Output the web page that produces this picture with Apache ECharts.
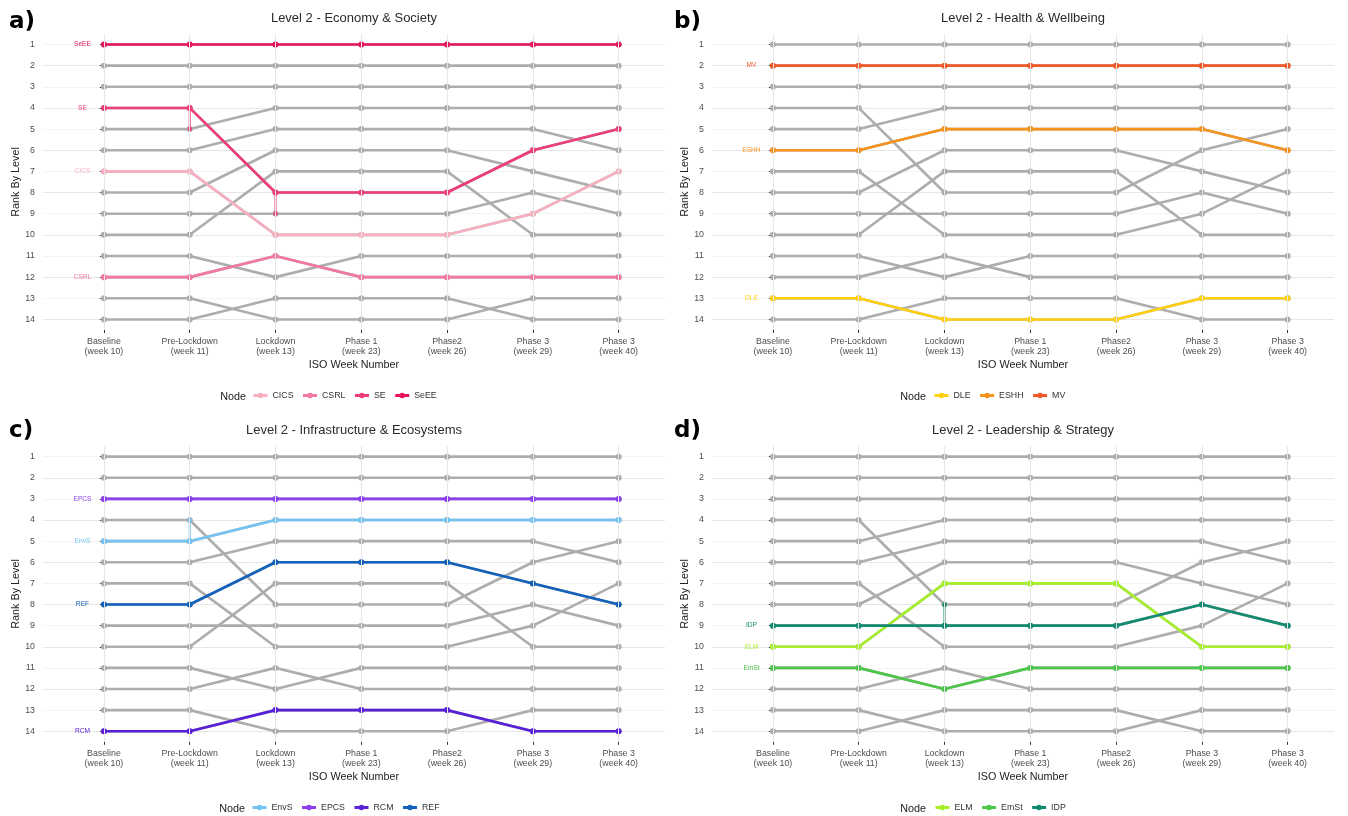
<!DOCTYPE html>
<html>
<head>
<meta charset="utf-8">
<title>Level 2 node ranks</title>
<script src="https://cdn.jsdelivr.net/npm/echarts@6/dist/echarts.min.js"></script>
<style>
  html, body { margin: 0; padding: 0; background: #ffffff; }
  #chart { width: 1348px; height: 816px; }
</style>
</head>
<body>
<div id="chart"></div>
<script>
// Time points on the x axis
const weekLabels = [
  'Baseline\n(week 10)', 'Pre-Lockdown\n(week 11)', 'Lockdown\n(week 13)',
  'Phase 1\n(week 23)', 'Phase2\n(week 26)', 'Phase 3\n(week 29)', 'Phase 3\n(week 40)'
];
const weekIndex = [0, 1, 2, 3, 4, 5, 6];
const rankTicks = [1, 2, 3, 4, 5, 6, 7, 8, 9, 10, 11, 12, 13, 14];

// Rank of each of the 14 Level 2 nodes at every time point (grey background lines)
const nodeRanks = [
  [1, 1, 1, 1, 1, 1, 1],
  [2, 2, 2, 2, 2, 2, 2],
  [3, 3, 3, 3, 3, 3, 3],
  [4, 4, 8, 8, 8, 6, 5],
  [5, 5, 4, 4, 4, 4, 4],
  [6, 6, 5, 5, 5, 5, 6],
  [7, 7, 10, 10, 10, 9, 7],
  [8, 8, 6, 6, 6, 7, 8],
  [9, 9, 9, 9, 9, 8, 9],
  [10, 10, 7, 7, 7, 10, 10],
  [11, 11, 12, 11, 11, 11, 11],
  [12, 12, 11, 12, 12, 12, 12],
  [13, 13, 14, 14, 14, 13, 13],
  [14, 14, 13, 13, 13, 14, 14]
];

// a) Economy & Society
const econNodes = ['CICS', 'CSRL', 'SE', 'SeEE'];
const econColors = ['#F8B0C1', '#F27A9E', '#EE3D77', '#E8175D'];
const rankCICS = [7, 7, 10, 10, 10, 9, 7];
const rankCSRL = [12, 12, 11, 12, 12, 12, 12];
const rankSE = [4, 4, 8, 8, 8, 6, 5];
const rankSeEE = [1, 1, 1, 1, 1, 1, 1];
const extraSE = [[1, 5], [2, 9]];      // second rank entry recorded for SE in the same week

// b) Health & Wellbeing
const healthNodes = ['DLE', 'ESHH', 'MV'];
const healthColors = ['#FFD012', '#F7941E', '#F05A28'];
const rankDLE = [13, 13, 14, 14, 14, 13, 13];
const rankESHH = [6, 6, 5, 5, 5, 5, 6];
const rankMV = [2, 2, 2, 2, 2, 2, 2];

// c) Infrastructure & Ecosystems
const infraNodes = ['EnvS', 'EPCS', 'RCM', 'REF'];
const infraColors = ['#74C3F5', '#8C3FF0', '#5A20D8', '#1262BC'];
const rankEnvS = [5, 5, 4, 4, 4, 4, 4];
const rankEPCS = [3, 3, 3, 3, 3, 3, 3];
const rankRCM = [14, 14, 13, 13, 13, 14, 14];
const rankREF = [8, 8, 6, 6, 6, 7, 8];
const extraEnvS = [[1, 4]];            // second rank entry recorded for EnvS

// d) Leadership & Strategy
const leadNodes = ['ELM', 'EmSt', 'IDP'];
const leadColors = ['#A6F02A', '#4CC74A', '#138A72'];
const rankELM = [10, 10, 7, 7, 7, 10, 10];
const rankEmSt = [11, 11, 12, 11, 11, 11, 11];
const rankIDP = [9, 9, 9, 9, 9, 8, 9];
const extraIDP = [[2, 8]];             // second rank entry recorded for IDP

const panels = [
  { letter: 'a)', title: 'Level 2 - Economy & Society', nodes: econNodes, colors: econColors,
    ranks: [rankCICS, rankCSRL, rankSE, rankSeEE], extra: { SE: extraSE } },
  { letter: 'b)', title: 'Level 2 - Health & Wellbeing', nodes: healthNodes, colors: healthColors,
    ranks: [rankDLE, rankESHH, rankMV], extra: {} },
  { letter: 'c)', title: 'Level 2 - Infrastructure & Ecosystems', nodes: infraNodes, colors: infraColors,
    ranks: [rankEnvS, rankEPCS, rankRCM, rankREF], extra: { EnvS: extraEnvS } },
  { letter: 'd)', title: 'Level 2 - Leadership & Strategy', nodes: leadNodes, colors: leadColors,
    ranks: [rankELM, rankEmSt, rankIDP], extra: { IDP: extraIDP } }
];

// Panel placement on the page
const GRID_W = 622;
const layout = [
  { left: 43,  top: 33.9,  height: 296.1, titleY: 18,  letterX: 9,   letterY: 22,  legendLeft: 252, nodeRight: 246, legendY: 397 },
  { left: 712, top: 33.9,  height: 296.1, titleY: 18,  letterX: 674, letterY: 22,  legendLeft: 933, nodeRight: 926, legendY: 397 },
  { left: 43,  top: 446.1, height: 295.7, titleY: 430, letterX: 9,   letterY: 431, legendLeft: 251, nodeRight: 245, legendY: 809 },
  { left: 712, top: 446.1, height: 295.7, titleY: 430, letterX: 674, letterY: 431, legendLeft: 934, nodeRight: 926, legendY: 809 }
];

const FONT = "'Liberation Sans', Arial, sans-serif";
const GREY = '#ADADAD';
const LINE_W = 2.6;
const DOT = 6;

const grids = [], xAxes = [], yAxes = [], series = [], legends = [], graphics = [];

panels.forEach((p, i) => {
  const L = layout[i];
  grids.push({ left: L.left, top: L.top, width: GRID_W, height: L.height });

  xAxes.push({
    type: 'value', gridIndex: i, min: -0.71, max: 6.54,
    axisLine: { show: false },
    splitLine: { show: false },
    axisTick: { show: true, customValues: weekIndex, length: 3, lineStyle: { color: '#333333', width: 1 } },
    axisLabel: {
      customValues: weekIndex, formatter: v => weekLabels[Math.round(v)],
      fontSize: 8.8, lineHeight: 10, color: '#4D4D4D', margin: 7, fontFamily: FONT, hideOverlap: false
    },
    name: 'ISO Week Number', nameLocation: 'middle', nameGap: 29.5,
    nameTextStyle: { fontSize: 10.8, color: '#222222', fontFamily: FONT }
  });

  yAxes.push({
    type: 'value', gridIndex: i, inverse: true, min: 0.5, max: 14.5, interval: 0.5,
    axisLine: { show: false },
    splitLine: { show: true, lineStyle: { color: ['#F3F3F3', '#E6E6E6'], width: 1 } },
    axisTick: { show: true, customValues: rankTicks, length: 4, lineStyle: { color: '#333333', width: 1 } },
    axisLabel: { customValues: rankTicks, fontSize: 8.8, color: '#4D4D4D', margin: 8, fontFamily: FONT },
    name: 'Rank By Level', nameLocation: 'middle', nameRotate: 90, nameGap: 21,
    nameTextStyle: { fontSize: 10.8, color: '#222222', fontFamily: FONT }
  });

  // vertical grid lines at each time point
  series.push({
    type: 'line', xAxisIndex: i, yAxisIndex: i, data: [], silent: true, z: 1,
    markLine: {
      silent: true, symbol: ['none', 'none'], label: { show: false },
      lineStyle: { color: '#E6E6E6', width: 1, type: 'solid' },
      emphasis: { disabled: true },
      data: weekIndex.map(w => ({ xAxis: w }))
    }
  });

  // all nodes in grey
  nodeRanks.forEach(r => {
    series.push({
      type: 'line', xAxisIndex: i, yAxisIndex: i, silent: true, z: 2,
      data: r.map((v, j) => [j, v]),
      symbol: 'circle', symbolSize: DOT, showAllSymbol: true,
      lineStyle: { color: GREY, width: LINE_W },
      itemStyle: { color: GREY, borderWidth: 0 },
      emphasis: { disabled: true }
    });
  });

  // highlighted nodes
  p.nodes.forEach((name, k) => {
    const col = p.colors[k];
    const r = p.ranks[k];
    series.push({
      name: name, type: 'line', xAxisIndex: i, yAxisIndex: i, z: 3,
      data: r.map((v, j) => [j, v]),
      symbol: 'circle', symbolSize: DOT, showAllSymbol: true,
      lineStyle: { color: col, width: LINE_W },
      itemStyle: { color: col, borderWidth: 0 },
      emphasis: { disabled: true }
    });
    (p.extra[name] || []).forEach(e => {
      series.push({
        name: name, type: 'line', xAxisIndex: i, yAxisIndex: i, z: 3,
        data: [[e[0], r[e[0]]], [e[0], e[1]]],
        symbol: 'circle', symbolSize: 4.5,
        lineStyle: { color: col, width: 2 },
        itemStyle: { color: col, borderWidth: 0 },
        emphasis: { disabled: true }
      });
    });
    // node name to the left of the baseline point
    series.push({
      type: 'scatter', xAxisIndex: i, yAxisIndex: i, z: 4, silent: true,
      data: [[-0.25, r[0]]], symbolSize: 2, itemStyle: { color: 'rgba(255,255,255,0)' },
      label: {
        show: true, position: 'inside', formatter: name, color: col, fontSize: 6.6, fontFamily: FONT,
        opacity: 1, textBorderWidth: 0, textBorderColor: 'transparent', textShadowBlur: 0
      },
      labelLayout: { hideOverlap: false }
    });
  });

  legends.push({
    data: p.nodes, left: L.legendLeft, top: L.legendY - 6, orient: 'horizontal',
    itemWidth: 14, itemHeight: 7, itemGap: 8, padding: 0, selectedMode: false,
    lineStyle: { width: 3 },
    textStyle: { fontSize: 8.8, color: '#333333', fontFamily: FONT }
  });

  graphics.push(
    { type: 'text', x: L.nodeRight, y: L.legendY, style: { text: 'Node', font: `10.8px ${FONT}`, fill: '#222222', textAlign: 'right', textVerticalAlign: 'middle' } },
    { type: 'text', x: L.left + GRID_W / 2, y: L.titleY, style: { text: p.title, font: `13px ${FONT}`, fill: '#2B2B2B', textAlign: 'center', textVerticalAlign: 'middle' } },
    { type: 'text', x: L.letterX, y: L.letterY, style: { text: p.letter, font: `bold 23px 'DejaVu Sans', sans-serif`, fill: '#000000', textAlign: 'left', textVerticalAlign: 'middle' } }
  );
});

const chart = echarts.init(document.getElementById('chart'), null, { renderer: 'canvas' });
chart.setOption({
  animation: false,
  backgroundColor: '#ffffff',
  textStyle: { fontFamily: FONT },
  grid: grids,
  xAxis: xAxes,
  yAxis: yAxes,
  legend: legends,
  graphic: graphics,
  series: series
});
</script>
</body>
</html>
